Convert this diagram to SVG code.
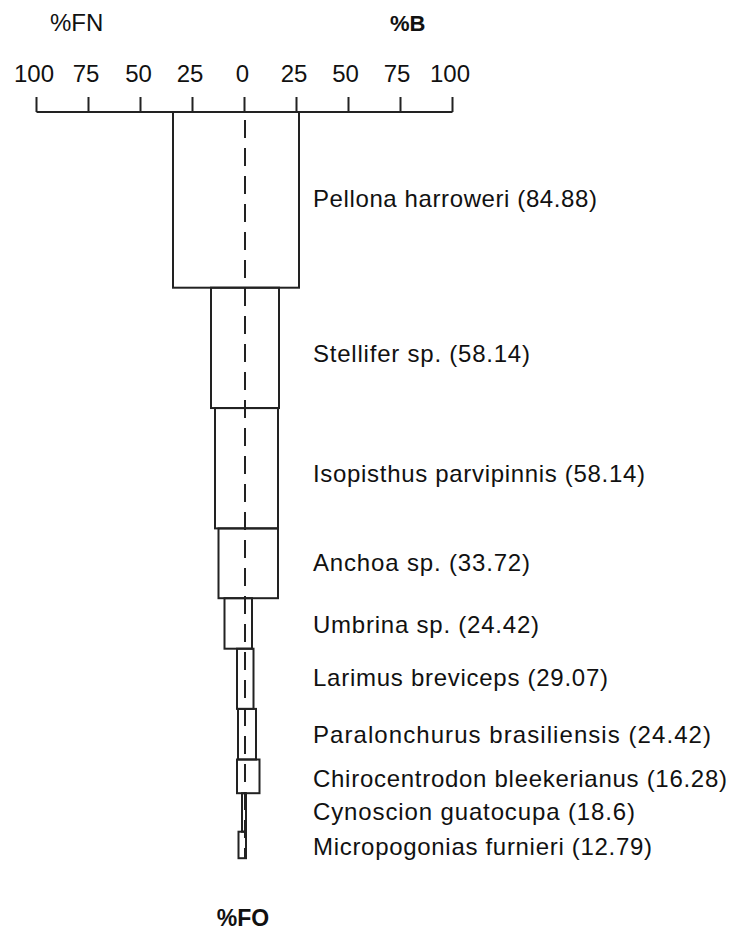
<svg xmlns="http://www.w3.org/2000/svg" width="732" height="930" viewBox="0 0 732 930">
<style>
  .ln { stroke: #222; stroke-width: 2; fill: none; }
  .bar { stroke: #222; stroke-width: 2; fill: none; }
  .dash { stroke: #222; stroke-width: 2; fill: none; stroke-dasharray: 18 10; }
  .t { font-family: "Liberation Sans", Arial, sans-serif; font-size: 24px; fill: #111; }
  .ax { text-anchor: middle; }
  .b { font-weight: bold; }
</style>
<rect width="732" height="930" fill="#fff"/>

<g id="axis">
  <text class="t" x="50" y="31">%FN</text>
  <text class="t b" x="390" y="31" style="font-size:22px">%B</text>
  <g class="t ax">
    <text x="34" y="82">100</text>
    <text x="86" y="82">75</text>
    <text x="138.5" y="82">50</text>
    <text x="190" y="82">25</text>
    <text x="242.5" y="82">0</text>
    <text x="294" y="82">25</text>
    <text x="345.5" y="82">50</text>
    <text x="397" y="82">75</text>
    <text x="450" y="82">100</text>
  </g>
  <path class="ln" d="M36.5 112H452.5 M36.5 97V112 M88.5 97V112 M140.5 97V112 M192.5 97V112 M244.5 97V112 M296.5 97V112 M348.5 97V112 M400.5 97V112 M452.5 97V112"/>
</g>

<g id="connectors">
  <line class="dash" x1="245" y1="120" x2="245" y2="858"/>
</g>

<g id="pellona">
  <rect class="bar" x="173" y="112" width="126" height="175.7"/>
  <text class="t" x="313" y="207" textLength="284" lengthAdjust="spacing">Pellona harroweri (84.88)</text>
</g>
<g id="stellifer">
  <rect class="bar" x="211" y="287.7" width="68" height="120.35"/>
  <text class="t" x="313" y="362" textLength="217" lengthAdjust="spacing">Stellifer sp. (58.14)</text>
</g>
<g id="isopisthus">
  <rect class="bar" x="215" y="408.05" width="63" height="120.35"/>
  <text class="t" x="313" y="482" textLength="332" lengthAdjust="spacing">Isopisthus parvipinnis (58.14)</text>
</g>
<g id="anchoa">
  <rect class="bar" x="218.5" y="528.4" width="59.5" height="69.8"/>
  <text class="t" x="313" y="571" textLength="217" lengthAdjust="spacing">Anchoa sp. (33.72)</text>
</g>
<g id="umbrina">
  <rect class="bar" x="224.5" y="598.2" width="27.5" height="50.5"/>
  <text class="t" x="313" y="633" textLength="226" lengthAdjust="spacing">Umbrina sp. (24.42)</text>
</g>
<g id="larimus">
  <rect class="bar" x="237" y="648.7" width="16.5" height="60.2"/>
  <text class="t" x="313" y="686" textLength="295" lengthAdjust="spacing">Larimus breviceps (29.07)</text>
</g>
<g id="paralonchurus">
  <rect class="bar" x="238" y="708.9" width="18" height="50.6"/>
  <text class="t" x="313" y="743" textLength="398" lengthAdjust="spacing">Paralonchurus brasiliensis (24.42)</text>
</g>
<g id="chirocentrodon">
  <rect class="bar" x="237" y="759.5" width="22.5" height="33.7"/>
  <text class="t" x="313" y="786.5" textLength="414" lengthAdjust="spacing">Chirocentrodon bleekerianus (16.28)</text>
</g>
<g id="cynoscion">
  <rect class="bar" x="242" y="793.2" width="4" height="38.5"/>
  <text class="t" x="313" y="819.5" textLength="322" lengthAdjust="spacing">Cynoscion guatocupa (18.6)</text>
</g>
<g id="micropogonias">
  <rect class="bar" x="238.5" y="831.7" width="7.5" height="26.5"/>
  <text class="t" x="313" y="854.5" textLength="339" lengthAdjust="spacing">Micropogonias furnieri (12.79)</text>
</g>

<g id="fo-label">
  <text class="t b ax" x="243" y="926" style="font-size:23px">%FO</text>
</g>
</svg>
